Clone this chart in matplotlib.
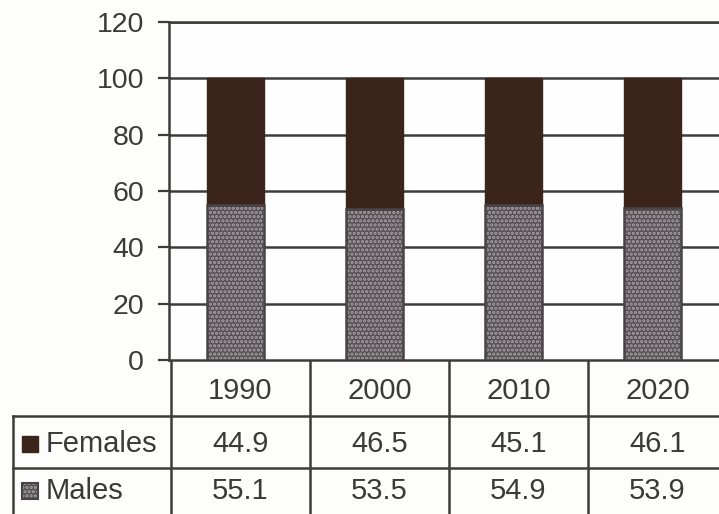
import matplotlib
matplotlib.use("Agg")
import matplotlib.pyplot as plt
from matplotlib.patches import Rectangle

years = ["1990", "2000", "2010", "2020"]
females = [44.9, 46.5, 45.1, 46.1]
males = [55.1, 53.5, 54.9, 53.9]
series_names = ["Females", "Males"]
y_ticks = [0, 20, 40, 60, 80, 100, 120]

plt.rcParams["font.family"] = ["Liberation Sans", "DejaVu Sans"]
plt.rcParams["hatch.linewidth"] = 1.6

W, H = 719, 514
fig = plt.figure(figsize=(W / 100, H / 100), dpi=100)
fig.patch.set_facecolor("#fdfdfb")

text_col = "#3a3a3a"
line_col = "#3c3c3c"
fem_col = "#3b2419"
male_face = "#555055"
male_dots = "#a8a2a2"

# plot area in pixel units
ax_left, ax_w = 169, 556
ax_top, ax_bot = 22, 360
ax = fig.add_axes([ax_left / W, (H - ax_bot) / H, ax_w / W, (ax_bot - ax_top) / H])
ax.set_facecolor("#fefefe")

x = list(range(len(years)))
bw = 0.41
off = -0.02
ax.bar([i + off for i in x], males, width=bw, color=male_face, hatch="....",
       edgecolor=male_dots, linewidth=0, zorder=3)
ax.bar([i + off for i in x], males, width=bw, fill=False, edgecolor="#484346",
       linewidth=1.8, zorder=4)
ax.bar([i + off for i in x], females, width=bw, bottom=males, color=fem_col,
       edgecolor=fem_col, linewidth=1.0, zorder=3)

ax.set_xlim(-0.5, len(years) - 0.5)
ax.set_ylim(0, 120)
ax.set_yticks(y_ticks)
ax.set_yticklabels([str(v) for v in y_ticks], fontsize=20.5, color=text_col)
ax.tick_params(axis="y", length=8, width=1.6, color=line_col, pad=10)
ax.tick_params(axis="x", bottom=False, labelbottom=False)
ax.grid(axis="y", color=line_col, linewidth=1.8, zorder=1)
for s in ["right", "bottom"]:
    ax.spines[s].set_visible(False)
ax.spines["top"].set_color(line_col)
ax.spines["top"].set_linewidth(1.8)
ax.spines["left"].set_color(line_col)
ax.spines["left"].set_linewidth(1.8)

# data table below the plot area
tab_top, tab_bot = 360, 516
tax = fig.add_axes([0, (H - tab_bot) / H, 1, (tab_bot - tab_top) / H])
tax.set_xlim(0, W)
tax.set_ylim(tab_bot, tab_top)
tax.axis("off")

col_w = ax_w / len(years)
row_h = [56, 52, 48]
rows_y = [tab_top, tab_top + row_h[0], tab_top + row_h[0] + row_h[1], tab_bot]
legend_left = 13
lw = 1.8

# horizontal rules
tax.plot([ax_left, W], [rows_y[0]] * 2, color=line_col, lw=lw)
for yy in rows_y[1:]:
    tax.plot([legend_left, W], [yy] * 2, color=line_col, lw=lw)
# vertical rules
tax.plot([legend_left] * 2, [rows_y[1], tab_bot], color=line_col, lw=lw)
for j in range(len(years) + 1):
    xx = ax_left + 2 + j * col_w
    tax.plot([xx] * 2, [tab_top, tab_bot], color=line_col, lw=lw)

fs = 21
for j, yr in enumerate(years):
    cx = ax_left + 2 + (j + 0.5) * col_w
    tax.text(cx, (rows_y[0] + rows_y[1]) / 2 + 3, yr, ha="center", va="center",
             fontsize=fs, color=text_col)
    tax.text(cx, (rows_y[1] + rows_y[2]) / 2 + 2, f"{females[j]:.1f}", ha="center",
             va="center", fontsize=fs, color=text_col)
    tax.text(cx, (rows_y[2] + rows_y[3]) / 2 - 1, f"{males[j]:.1f}", ha="center",
             va="center", fontsize=fs, color=text_col)

# row labels with legend keys
key = 16
for r, (name, ycen) in enumerate(zip(series_names,
                                     [(rows_y[1] + rows_y[2]) / 2 + 2,
                                      (rows_y[2] + rows_y[3]) / 2 - 1])):
    if r == 0:
        tax.add_patch(Rectangle((22, ycen - key / 2), key, key, facecolor=fem_col,
                                edgecolor=fem_col, lw=1))
    else:
        tax.add_patch(Rectangle((22, ycen - key / 2), key, key, facecolor=male_face,
                                hatch="....", edgecolor=male_dots, lw=0))
        tax.add_patch(Rectangle((22, ycen - key / 2), key, key, fill=False,
                                edgecolor="#484346", lw=1.5))
    tax.text(46, ycen, name, ha="left", va="center", fontsize=fs, color=text_col)

fig.savefig("out.png", dpi=100, facecolor=fig.get_facecolor())
